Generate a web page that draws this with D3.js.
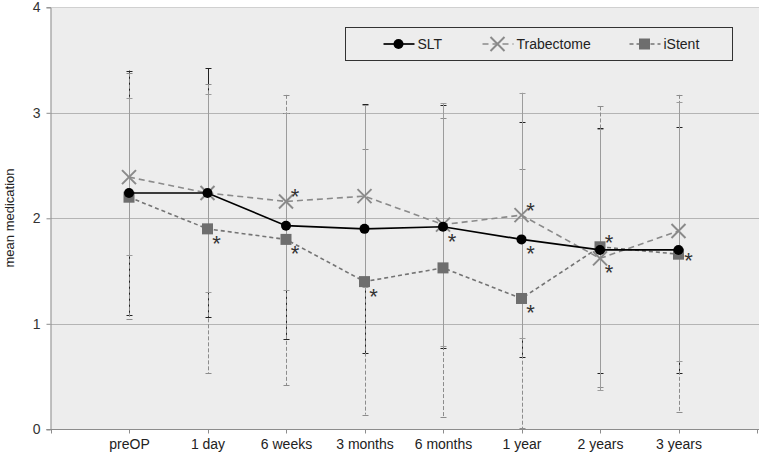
<!DOCTYPE html>
<html>
<head>
<meta charset="utf-8">
<script src="https://cdn.jsdelivr.net/npm/d3@7"></script>
<style>
body{margin:0;background:#fff}
svg{display:block;font-family:"Liberation Sans",Arial,sans-serif}
</style>
</head>
<body>
<div id="chart"></div>
<script>
// time points
var categories = ["preOP","1 day","6 weeks","3 months","6 months","1 year","2 years","3 years"]
var yTicks = [0,1,2,3,4]

// SLT
var sltMean  = [2.24,2.24,1.93,1.90,1.92,1.80,1.70,1.70]
var sltHigh  = [3.40,3.42,3.00,3.08,3.07,2.91,2.86,2.87]
var sltLow   = [1.08,1.06,0.86,0.72,0.77,0.69,0.53,0.53]
// Trabectome
var trabMean = [2.39,2.24,2.16,2.21,1.94,2.03,1.62,1.88]
var trabHigh = [3.14,3.18,3.00,3.07,3.09,3.19,2.85,3.10]
var trabLow  = [1.65,1.30,1.32,1.35,0.79,0.87,0.37,0.65]
// iStent
var istMean  = [2.20,1.90,1.80,1.40,1.53,1.24,1.73,1.66]
var istHigh  = [3.38,3.27,3.17,2.66,2.95,2.47,3.06,3.17]
var istLow   = [1.05,0.53,0.42,0.14,0.12,0.01,0.40,0.16]

// significance marks: [category, series, place]
var stars = [
    ["1 day","iStent","below"],
    ["6 weeks","Trabectome","above"],
    ["6 weeks","iStent","below"],
    ["3 months","iStent","below"],
    ["6 months","SLT","below"],
    ["1 year","Trabectome","above"],
    ["1 year","SLT","below"],
    ["1 year","iStent","below"],
    ["2 years","iStent","above"],
    ["2 years","Trabectome","below"],
    ["3 years","iStent","right"]
]

var W=760, H=454
var plot={left:50.5, right:757, top:7.3, bottom:429.3}

var svg=d3.select('#chart').append('svg')
    .attr('width',W).attr('height',H)

var x=d3.scalePoint().domain(categories).range([plot.left,plot.right]).padding(1)
var y=d3.scaleLinear().domain([0,4]).range([plot.bottom,plot.top])

var series=[
    {name:'SLT', mean:sltMean, hi:sltHigh, lo:sltLow, color:'#000', dash:null, width:1.7,
     bar:'#222', barDash:null, marker:'circle'},
    {name:'Trabectome', mean:trabMean, hi:trabHigh, lo:trabLow, color:'#8a8a8a', dash:'6,4', width:1.6,
     bar:'#9c9c9c', barDash:null, marker:'x'},
    {name:'iStent', mean:istMean, hi:istHigh, lo:istLow, color:'#747474', dash:'4,3', width:1.6,
     bar:'#8c8c8c', barDash:'4,2', marker:'square'}
]

// background
svg.append('rect')
    .attr('x',plot.left).attr('y',plot.top)
    .attr('width',plot.right-plot.left+2).attr('height',plot.bottom-plot.top)
    .style('fill','#ededed')

// gridlines
svg.append('g').selectAll('line').data(yTicks.filter(function(d){return d>0}))
    .enter().append('line')
    .attr('x1',plot.left).attr('x2',plot.right+2)
    .attr('y1',function(d){return Math.round(y(d))+0.5})
    .attr('y2',function(d){return Math.round(y(d))+0.5})
    .style('stroke',function(d){return d==4?'#d0d0d0':'#b4b4b4'})
    .style('stroke-width',1)

// axes
var yAxis=svg.append('g')
    .attr('transform','translate('+plot.left+',0)')
    .call(d3.axisLeft(y).tickValues(yTicks).tickSize(4).tickPadding(6).tickFormat(d3.format('d')))
yAxis.select('.domain').style('stroke','#8c8c8c')
yAxis.selectAll('.tick line').style('stroke','#8c8c8c')
yAxis.selectAll('text').style('font-size','14px').style('fill','#333')

var xAxis=svg.append('g')
    .attr('transform','translate(0,'+(Math.round(plot.bottom)+0.5)+')')
    .call(d3.axisBottom(x).tickSize(0).tickPadding(10))
xAxis.select('.domain').remove()
xAxis.selectAll('text').style('font-size','14px').style('fill','#222')
xAxis.append('line')
    .attr('x1',plot.left-4).attr('x2',plot.right+2)
    .style('stroke','#8c8c8c')
// tick marks sit on every category plus both ends
var step=x.step()
var tickXs=[plot.left].concat(categories.map(function(c){return x(c)}),[x(categories[categories.length-1])+step])
xAxis.selectAll('.tk').data(tickXs).enter().append('line')
    .attr('class','tk')
    .attr('x1',function(d){return Math.round(d)+0.5}).attr('x2',function(d){return Math.round(d)+0.5})
    .attr('y1',0).attr('y2',4)
    .style('stroke','#8c8c8c')

svg.append('text')
    .attr('transform','translate(14,218) rotate(-90)')
    .attr('text-anchor','middle')
    .style('font-size','13px').style('fill','#222')
    .text('mean medication')

// error bars (SLT under, then iStent, Trabectome on top)
;[series[0],series[2],series[1]].forEach(function(s){
    var g=svg.append('g').attr('class','err-'+s.name)
    categories.forEach(function(c,i){
        var cx=Math.round(x(c))+0.5
        g.append('line')
            .attr('x1',cx).attr('x2',cx)
            .attr('y1',y(s.hi[i])).attr('y2',y(s.lo[i]))
            .style('stroke',s.bar).style('stroke-width',1)
            .style('stroke-dasharray',s.barDash)
        ;[s.hi[i],s.lo[i]].forEach(function(v){
            g.append('line')
                .attr('x1',cx-3).attr('x2',cx+3)
                .attr('y1',Math.round(y(v))+0.5).attr('y2',Math.round(y(v))+0.5)
                .style('stroke',s.bar).style('stroke-width',1)
        })
    })
})

function drawMarker(g,type,cx,cy,color){
    if(type=='circle'){
        g.append('circle').attr('cx',cx).attr('cy',cy).attr('r',5).style('fill','#000')
    }else if(type=='square'){
        g.append('rect').attr('x',cx-5.5).attr('y',cy-5.5).attr('width',11).attr('height',11)
            .style('fill','#6e6e6e')
    }else{
        var r=7
        g.append('path')
            .attr('d','M'+(cx-r)+','+(cy-r)+'L'+(cx+r)+','+(cy+r)+'M'+(cx-r)+','+(cy+r)+'L'+(cx+r)+','+(cy-r))
            .style('stroke','#8a8a8a').style('stroke-width',2)
    }
}

// lines and markers
var line=d3.line()
    .x(function(d,i){return x(categories[i])})
    .y(function(d){return y(d)})

series.slice().reverse().forEach(function(s){
    var g=svg.append('g').attr('class','s-'+s.name)
    g.append('path').datum(s.mean)
        .attr('d',line)
        .style('fill','none').style('stroke',s.color)
        .style('stroke-width',s.width)
        .style('stroke-dasharray',s.dash)
    s.mean.forEach(function(v,i){
        drawMarker(g,s.marker,x(categories[i]),y(v),s.color)
    })
})

// asterisks
var byName={}
series.forEach(function(s){byName[s.name]=s})
svg.append('g').selectAll('text').data(stars).enter().append('text')
    .attr('x',function(d){return x(d[0])+(d[2]=='right'?10:9)})
    .attr('y',function(d){
        var cy=y(byName[d[1]].mean[categories.indexOf(d[0])])
        var off=d[2]=='above'?-9:(d[2]=='below'?10:2)
        return cy+off+12
    })
    .attr('text-anchor','middle')
    .style('font-size','22px').style('fill','#333')
    .text('*')

// legend
var lg=svg.append('g').attr('transform','translate(345.5,27.5)')
lg.append('rect').attr('width',387).attr('height',33)
    .style('fill','#ededed').style('stroke','#333').style('stroke-width',1)
var items=[{s:byName['SLT'],x0:38},{s:byName['Trabectome'],x0:137},{s:byName['iStent'],x0:284}]
items.forEach(function(it){
    var s=it.s, ly=16.5
    lg.append('line').attr('x1',it.x0).attr('x2',it.x0+31)
        .attr('y1',ly).attr('y2',ly)
        .style('stroke',s.color).style('stroke-width',s.width)
        .style('stroke-dasharray',s.dash)
    drawMarker(lg,s.marker,it.x0+15,ly,s.color)
    lg.append('text').attr('x',it.x0+34).attr('y',ly+5)
        .style('font-size','14px').style('fill','#222')
        .text(s.name)
})
</script>
</body>
</html>
